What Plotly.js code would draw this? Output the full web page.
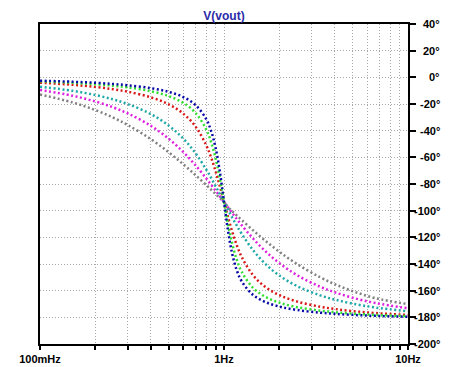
<!DOCTYPE html>
<html><head><meta charset="utf-8">
<script src="https://cdn.plot.ly/plotly-3.0.1.min.js"></script>
<style>html,body{margin:0;padding:0;background:#fff}#chart{width:450px;height:367px}</style>
</head><body><div id="chart"></div>
<script>
// Frequencies (Hz)
const freq = [0.1,0.15,0.2,0.25,0.3,0.4,0.5,0.6,0.7,0.8,0.85,0.9,0.95,1,1.053,1.111,1.176,1.25,1.429,1.667,2,2.5,3.333,4,5,6.667,10];
// Phase of V(vout) in degrees, one array per stepped trace
const phaseBlue    = [-2.51,-3.30,-4.11,-4.98,-5.92,-8.09,-10.87,-14.76,-20.75,-31.26,-39.97,-52.73,-70.99,-93.5,-115.63,-133.09,-145.07,-153.16,-162.87,-168.38,-171.95,-174.51,-176.50,-177.36,-178.15,-178.90,-179.61];
const phaseGreen   = [-3.01,-4.06,-5.14,-6.30,-7.54,-10.41,-14.07,-19.10,-26.63,-39.02,-48.38,-60.77,-76.28,-93.5,-110.50,-125.45,-137.20,-145.96,-157.45,-164.40,-169.01,-172.37,-175.00,-176.14,-177.20,-178.20,-179.15];
const phaseRed     = [-4.02,-5.58,-7.21,-8.92,-10.77,-14.97,-20.22,-27.17,-36.87,-50.87,-59.95,-70.41,-81.85,-93.5,-105.05,-116.19,-126.23,-134.85,-147.95,-156.95,-163.36,-168.19,-172.05,-173.74,-175.31,-176.80,-178.24];
const phaseCyan    = [-7.02,-10.10,-13.28,-16.57,-20.03,-27.53,-36.08,-45.86,-56.94,-69.05,-75.30,-81.53,-87.63,-93.5,-99.35,-105.37,-111.46,-117.51,-129.10,-139.56,-148.70,-156.61,-163.53,-166.71,-169.74,-172.66,-175.48];
const phaseMagenta = [-9.48,-13.77,-18.13,-22.54,-27.06,-36.36,-46.03,-55.97,-65.97,-75.73,-80.44,-84.98,-89.34,-93.5,-97.64,-101.96,-106.44,-111.03,-120.47,-130.03,-139.39,-148.44,-157.06,-161.22,-165.29,-169.29,-173.22];
const phaseGray    = [-12.91,-18.79,-24.58,-30.25,-35.78,-46.32,-56.13,-65.14,-73.33,-80.76,-84.20,-87.46,-90.56,-93.5,-97.44,-100.52,-103.74,-107.12,-114.37,-122.28,-130.87,-140.12,-149.98,-155.11,-160.34,-165.67,-170.07];

// Tick labels
const xTickVals = [0.1, 1, 10];
const xTickText = ['100mHz', '1Hz', '10Hz'];
const xMinorVals = [0.2,0.3,0.4,0.5,0.6,0.7,0.8,0.9,2,3,4,5,6,7,8,9];
const yTickVals = [40,20,0,-20,-40,-60,-80,-100,-120,-140,-160,-180,-200];
const yTickText = ['40°','20°','0°','-20°','-40°','-60°','-80°','-100°','-120°','-140°','-160°','-180°','-200°'];

const series = [
  {y: phaseGray, color: '#808080'},
  {y: phaseMagenta, color: '#e020e0'},
  {y: phaseCyan, color: '#20a8a8'},
  {y: phaseRed, color: '#d81818'},
  {y: phaseGreen, color: '#30e030'},
  {y: phaseBlue, color: '#0808a8'}
];

const traces = series.map(s => ({
  x: freq, y: s.y, type: 'scatter', mode: 'lines',
  line: {color: s.color, width: 2.5, dash: '2px,2.5px', shape: 'spline', smoothing: 1},
  hoverinfo: 'skip', showlegend: false
}));

const tickFont = {family: 'Liberation Sans, Arial, sans-serif', size: 11, color: '#000', weight: 'bold'};

const annotations = yTickVals.map((v, i) => ({
  x: 1, xref: 'paper', y: v, yref: 'y', text: yTickText[i],
  xanchor: 'right', yanchor: 'middle', xshift: 34, showarrow: false,
  font: tickFont
}));

const gridStyle = {showgrid: true, gridcolor: '#a8a8a8', gridwidth: 1, griddash: '1px,2px'};

const layout = {
  width: 450, height: 367,
  margin: {l: 40, r: 42, t: 24, b: 23, pad: 0},
  paper_bgcolor: '#fff', plot_bgcolor: '#fff',
  title: {text: 'V(vout)', font: {family: 'Liberation Sans, Arial, sans-serif', size: 12, color: '#2a2aa8', weight: 'bold'},
          x: 0.5, xref: 'paper', xanchor: 'center', y: 1 - 16/367, yref: 'container', yanchor: 'middle'},
  xaxis: Object.assign({
    type: 'log', range: [-1, 1], tickmode: 'array', tickvals: xTickVals, ticktext: xTickText,
    ticks: 'outside', ticklen: 4, tickwidth: 2, tickcolor: '#000',
    showline: true, linecolor: '#000', linewidth: 2, mirror: true,
    tickfont: tickFont, zeroline: false, fixedrange: true,
    minor: Object.assign({tickmode: 'array', tickvals: xMinorVals, ticks: 'outside', ticklen: 4, tickwidth: 2, tickcolor: '#000'}, gridStyle)
  }, gridStyle),
  yaxis: Object.assign({
    range: [-200, 40], tickmode: 'array', tickvals: yTickVals, showticklabels: false,
    side: 'right', ticks: 'outside', ticklen: 6, tickwidth: 2, tickcolor: '#000',
    showline: true, linecolor: '#000', linewidth: 2, mirror: true,
    zeroline: false, fixedrange: true
  }, gridStyle),
  annotations: annotations
};

Plotly.newPlot('chart', traces, layout, {displayModeBar: false, staticPlot: true});
</script>
</body></html>
